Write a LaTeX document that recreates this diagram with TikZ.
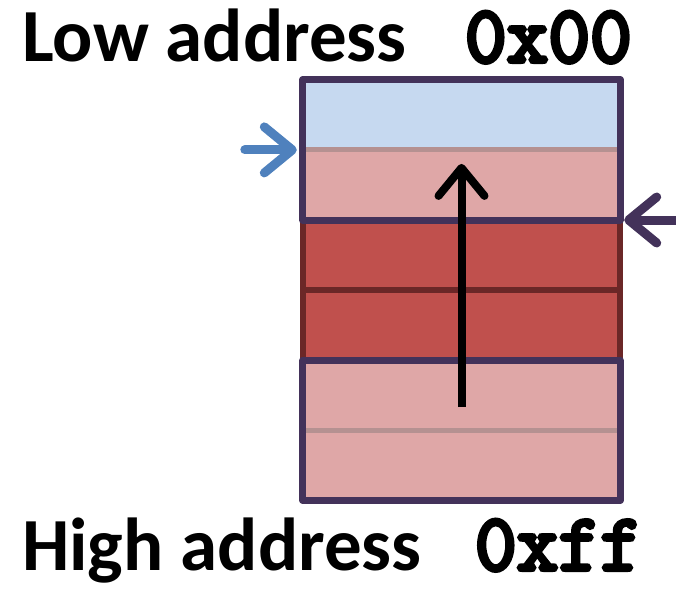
\documentclass[tikz,border=0pt]{standalone}
\usepackage{fontspec}
\setmainfont{Carlito}
\newfontfamily\addrfont[FakeBold=5]{Latin Modern Mono}
\usetikzlibrary{arrows.meta,positioning,calc}
\definecolor{lowcolor}{RGB}{198,217,240}
\definecolor{pinkcolor}{RGB}{223,167,167}
\definecolor{redcolor}{RGB}{192,80,77}
\definecolor{framecolor}{RGB}{67,50,90}
\definecolor{redframe}{RGB}{107,39,39}
\definecolor{divcolor}{RGB}{181,145,145}
\definecolor{spcolor}{RGB}{79,129,189}
\tikzset{
  cell/.style    = {rectangle, minimum width=317pt, minimum height=69.7pt,
                    inner sep=0pt, draw=none},
  lowcell/.style = {cell, fill=lowcolor},
  midcell/.style = {cell, fill=pinkcolor},
  hotcell/.style = {cell, fill=redcolor},
  grpframe/.style = {draw=framecolor, line width=7pt, line join=round},
  hotframe/.style = {draw=redframe, line width=6pt},
  divline/.style  = {draw=divcolor, line width=5pt},
  ptrarrow/.style = {line width=9pt, line cap=round,
                     -{Straight Barb[length=28pt,width=46pt,round]}},
  growarrow/.style = {line width=8pt,
                      -{Straight Barb[length=28pt,width=46pt,round]}},
  title/.style = {font=\fontsize{75}{80}\selectfont\bfseries, inner sep=0pt},
  addr/.style  = {font=\fontsize{81}{84}\addrfont, inner sep=0pt}
}
\begin{document}
\begin{tikzpicture}[x=1pt,y=-1pt]
\useasboundingbox (0,0) rectangle (676,588);

% labels
\node[title, anchor=base west] (lowtxt) at (22,62) {Low address};
\node[addr, anchor=base east] (lowaddr) at (632,62) {0x00};
\node[title, anchor=base west] (hightxt) at (22,570) {High address};
\node[addr, anchor=base east] (highaddr) at (642,570) {0xff};

% -------------------- cells --------------------
\node[lowcell] (r1) at (461.5,114.85) {};
\node[midcell, below=0pt of r1] (r2) {};
\node[hotcell, below=0pt of r2] (r3) {};
\node[hotcell, below=0pt of r3] (r4) {};
\node[midcell, below=0pt of r4] (r5) {};
\node[midcell, below=0pt of r5] (r6) {};

% dividers inside groups
\draw[divline] (r1.south west) -- (r1.south east);
\draw[divline] (r5.south west) -- (r5.south east);
\draw[hotframe] (r3.south west) -- (r3.south east);

% group frames
\draw[hotframe] (r3.north west) rectangle (r4.south east);
\draw[grpframe] (r1.north west) rectangle (r2.south east);
\draw[grpframe] (r5.north west) rectangle (r6.south east);
\draw[grpframe] (r2.south west) -- (r2.south east);
\draw[grpframe] (r5.north west) -- (r5.north east);

% -------------------- pointers --------------------
\coordinate (sptail) at ($(r1.south west)+(-58,0)$);
\draw[ptrarrow, draw=spcolor, shorten >=6pt] (sptail) -- (r1.south west);

\coordinate (bptail) at ($(r2.south east)+(56,0)$);
\draw[ptrarrow, draw=framecolor, shorten >=4pt] (bptail) -- (r2.south east);

\coordinate (growtail) at ($(r5.north)+(0,47)$);
\coordinate (growtip) at ($(r2.north)+(0,14)$);
\draw[growarrow] (growtail) -- (growtip);

\end{tikzpicture}
\end{document}
